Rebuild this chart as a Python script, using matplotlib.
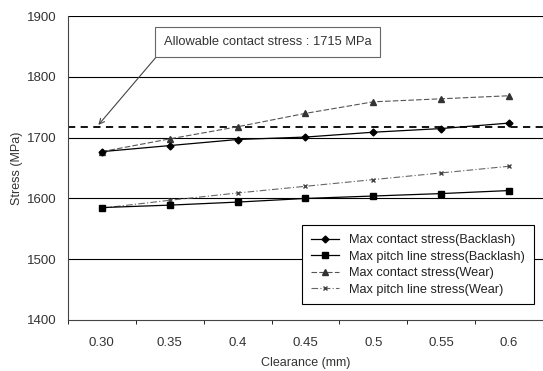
import numpy as np
import matplotlib.pyplot as plt

clearance = ['0.30', '0.35', '0.4', '0.45', '0.5', '0.55', '0.6']
contact_backlash = [1677, 1687, 1697, 1701, 1709, 1715, 1724]
pitch_backlash = [1585, 1589, 1594, 1600, 1604, 1608, 1613]
contact_wear = [1677, 1698, 1718, 1740, 1759, 1764, 1769]
pitch_wear = [1584, 1597, 1609, 1620, 1631, 1642, 1653]
allowable = 1718

plt.rcParams['font.family'] = ['Liberation Sans', 'DejaVu Sans']

fig = plt.figure(figsize=(5.43, 3.71), dpi=100)
ax = fig.add_axes([0.125, 0.1375, 0.875, 0.819])

x = np.arange(len(clearance))
for v in [1500, 1600, 1700, 1800, 1900]:
    ax.axhline(v, color='black', linewidth=0.8, zorder=1)
ax.axhline(allowable, color='black', linestyle=(0, (4, 3)), linewidth=1.3, zorder=2)

ax.plot(x, contact_backlash, color='black', linewidth=0.9, marker='D', markersize=3.5,
        label='Max contact stress(Backlash)', zorder=4)
ax.plot(x, pitch_backlash, color='black', linewidth=0.9, marker='s', markersize=4,
        label='Max pitch line stress(Backlash)', zorder=4)
ax.plot(x, contact_wear, color='#555555', linewidth=0.8, linestyle=(0, (5, 2)), marker='^',
        markersize=4, markerfacecolor='#333333', markeredgecolor='#333333',
        label='Max contact stress(Wear)', zorder=3)
ax.plot(x, pitch_wear, color='#666666', linewidth=0.8, linestyle=(0, (6, 2, 1, 2)), marker='x',
        markersize=3.5, markeredgecolor='#444444',
        label='Max pitch line stress(Wear)', zorder=3)

ax.set_xlim(-0.5, 6.5)
ax.set_ylim(1400, 1900)
ax.set_xticks(x)
ax.set_xticklabels(clearance, color='#333333')
ax.set_xticks(np.arange(-0.5, 7, 1), minor=True)
ax.tick_params(axis='x', which='major', length=0, pad=12, labelsize=9.5)
ax.tick_params(axis='x', which='minor', length=3, direction='out')
ax.set_yticks([1400, 1500, 1600, 1700, 1800, 1900])
ax.tick_params(axis='y', length=0, labelsize=9.5, labelcolor='#333333', pad=8)
ax.spines['top'].set_visible(False)
ax.spines['right'].set_visible(False)
ax.spines['left'].set_color('#444444')
ax.spines['bottom'].set_color('#444444')

ax.set_xlabel('Clearance (mm)', fontsize=9, color='#333333', labelpad=6)
ax.set_ylabel('Stress (MPa)', fontsize=9, color='#333333', labelpad=3)

ax.annotate('Allowable contact stress : 1715 MPa', xy=(-0.05, allowable + 3),
            xytext=(2.44, 1857), fontsize=9.3, color='#333333', ha='center', va='center',
            bbox=dict(boxstyle='square,pad=0.7', facecolor='white', edgecolor='#666666', linewidth=0.8),
            arrowprops=dict(arrowstyle='->', color='#444444', linewidth=0.8, shrinkA=0, shrinkB=0,
                            relpos=(0.0, 0.0)))

leg = ax.legend(loc='lower right', bbox_to_anchor=(0.995, 0.03), fontsize=9.2, frameon=True,
                fancybox=False, edgecolor='black', framealpha=1, handlelength=2.2,
                borderpad=0.7, labelspacing=0.35)
leg.get_frame().set_linewidth(0.8)
for t in leg.get_texts():
    t.set_color('#222222')

fig.savefig('out.png', dpi=100)
